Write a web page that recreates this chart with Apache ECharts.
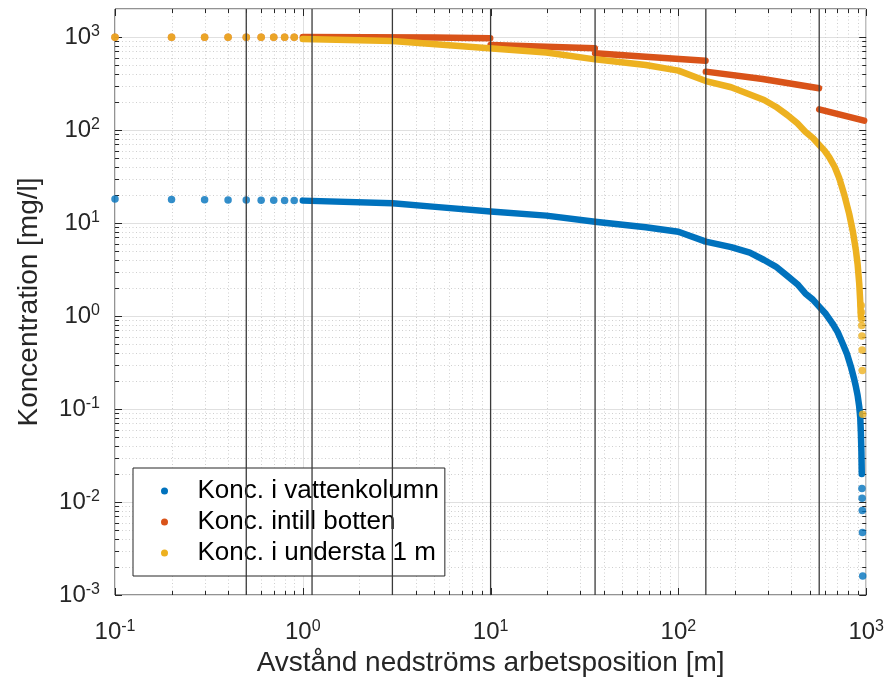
<!DOCTYPE html>
<html>
<head>
<meta charset="utf-8">
<script src="https://cdn.jsdelivr.net/npm/echarts@6/dist/echarts.min.js"></script>
<style>
  html, body { margin: 0; padding: 0; background: #fff; }
  #chart { width: 887px; height: 687px; }
</style>
</head>
<body>
<div id="chart"></div>
<script>
// axelgränser
const xMin = 0.1, xMax = 1000;
const yMin = 0.001, yMax = 2000;

// glesa punkter före 1 m
const sparseX = [0.1, 0.2, 0.3, 0.4, 0.5, 0.6, 0.7, 0.8, 0.9];
const vattenSparse = [18.1, 17.9, 17.8, 17.7, 17.7, 17.6, 17.6, 17.5, 17.5];
const bottenSparse = [995, 995, 995, 995, 995, 995, 995, 995, 995];
const understaSparse = [995, 995, 995, 995, 995, 995, 995, 995, 995];

// tät del, [avstånd, koncentration]
const vattenLine = [
  [1, 17.4], [3, 16.3], [4.9, 15.0], [10, 13.3], [19.8, 12.0], [36, 10.3],
  [67, 9.0], [100, 8.05], [140, 6.3], [191, 5.5], [240, 4.8], [286, 4.0],
  [330, 3.4], [380, 2.7], [430, 2.2], [474, 1.75], [520, 1.5], [562, 1.26],
  [610, 1.05], [662, 0.83], [705, 0.67], [748, 0.51], [790, 0.39], [829, 0.285],
  [860, 0.215], [881, 0.174], [900, 0.14], [918, 0.106], [930, 0.08],
  [937, 0.055], [943, 0.035], [947, 0.02]
];
const vattenTail = [[949, 0.014], [951, 0.011], [953, 0.0081], [955, 0.0047], [958, 0.0016]];

const bottenLine = [
  [1, 1000], [5, 985], [9.95, 968], null,
  [10, 820], [19.8, 787], [35.9, 755], null,
  [36, 668], [67, 614], [139.5, 556], null,
  [140, 424], [281, 353], [561, 281], null,
  [562, 167], [975, 126]
];

const understaLine = [
  [1, 950], [3, 905], [9.8, 755], [19.8, 680], [36, 575], [67, 500],
  [100, 435], [140, 336], [191, 288], [286, 210], [330, 178], [380, 145],
  [430, 118], [474, 96], [520, 82], [562, 69], [600, 60], [635, 51],
  [680, 40], [718, 30.5], [765, 20], [812, 12.5], [850, 8], [881, 5.1],
  [900, 3.6], [918, 2.24], [928, 1.5], [937, 0.98]
];
const understaTail = [
  [941, 1.3], [943, 1.1], [945, 0.93], [947, 0.79], [949, 0.61],
  [951, 0.43], [953, 0.26], [957, 0.088]
];

// lodräta gränslinjer
const boundaries = [0.5, 1.12, 3, 10, 36, 140, 562];

const names = ['Konc. i vattenkolumn', 'Konc. intill botten', 'Konc. i understa 1 m'];
const colors = ['#0072BD', '#D95319', '#EDB120'];
const font = 'Liberation Sans';
const ink = '#262626';

function zip(xs, ys) { return xs.map((x, i) => [x, ys[i]]); }

const xDecades = [-1, 0, 1, 2, 3];
const yDecades = [-3, -2, -1, 0, 1, 2, 3];

function renderGuides(params, api) {
  const cs = params.coordSys;
  const l = cs.x, r = cs.x + cs.width, t = cs.y, b = cs.y + cs.height;
  const kids = [];
  const dotted = { stroke: '#cfcfcf', lineWidth: 1, lineDash: [1, 2.5] };
  const tick = { stroke: ink, lineWidth: 1 };
  const seg = (x1, y1, x2, y2, st) => kids.push({ type: 'line', shape: { x1, y1, x2, y2 }, style: st });
  xDecades.forEach(d => {
    const major = Math.pow(10, d);
    if (major >= xMin && major <= xMax) {
      const px = Math.round(api.coord([major, 1])[0]) + 0.5;
      seg(px, b, px, b - 7, tick); seg(px, t, px, t + 7, tick);
    }
    for (let m = 2; m <= 9; m++) {
      const v = m * major;
      if (v <= xMin || v >= xMax) continue;
      const px = Math.round(api.coord([v, 1])[0]) + 0.5;
      seg(px, t, px, b, dotted);
      seg(px, b, px, b - 4, tick); seg(px, t, px, t + 4, tick);
    }
  });
  yDecades.forEach(d => {
    const major = Math.pow(10, d);
    if (major >= yMin && major <= yMax) {
      const py = Math.round(api.coord([1, major])[1]) + 0.5;
      seg(l, py, l + 7, py, tick); seg(r, py, r - 7, py, tick);
    }
    for (let m = 2; m <= 9; m++) {
      const v = m * major;
      if (v <= yMin || v >= yMax) continue;
      const py = Math.round(api.coord([1, v])[1]) + 0.5;
      seg(l, py, r, py, dotted);
      seg(l, py, l + 4, py, tick); seg(r, py, r - 4, py, tick);
    }
  });
  return { type: 'group', children: kids };
}

function fmtPow(v) {
  const e = Math.log10(v);
  const k = Math.round(e);
  if (Math.abs(e - k) > 1e-6) return '';
  return '{b|10}{s|' + k + '}';
}
const powRich = {
  b: { fontFamily: font, fontSize: 24, color: ink, lineHeight: 26 },
  s: { fontFamily: font, fontSize: 16, color: ink, verticalAlign: 'top', lineHeight: 16 }
};

const boundaryData = [];
boundaries.forEach(v => { boundaryData.push([v, yMin], [v, yMax], null); });

const lineBase = (name, data, color) => ({
  name, type: 'line', data, showSymbol: false, symbol: 'none', connectNulls: false,
  lineStyle: { color, width: 6.5, cap: 'round', join: 'round' },
  itemStyle: { color }, z: 3, clip: false, animation: false
});
const dotBase = (name, data, color) => ({
  name, type: 'scatter', data, symbol: 'circle', symbolSize: 7.5,
  itemStyle: { color }, z: 3, clip: false, animation: false
});

const option = {
  animation: false,
  backgroundColor: '#fff',
  grid: { left: 115, right: 20, top: 9, bottom: 92, show: true, borderColor: ink, borderWidth: 1, backgroundColor: 'transparent' },
  legend: {
    orient: 'vertical', left: 133, top: 468,
    data: names.map(n => ({ name: n, icon: 'circle' })),
    itemWidth: 56, itemHeight: 7, itemGap: 5,
    padding: [10, 6, 10, 28],
    backgroundColor: '#fff', borderColor: ink, borderWidth: 1, borderRadius: 0,
    textStyle: { fontFamily: font, fontSize: 26, color: '#000' },
    selectedMode: false
  },
  xAxis: {
    type: 'log', logBase: 10, min: xMin, max: xMax, interval: 1,
    name: 'Avstånd nedströms arbetsposition [m]', nameLocation: 'middle', nameGap: 50,
    nameTextStyle: { fontFamily: font, fontSize: 28, color: ink },
    axisLine: { show: false }, axisTick: { show: false },
    axisLabel: { formatter: fmtPow, rich: powRich, margin: 24, showMaxLabel: true, showMinLabel: true },
    splitLine: { show: true, lineStyle: { color: '#e0e0e0', width: 1 } }
  },
  yAxis: {
    type: 'log', logBase: 10, min: yMin, max: yMax, interval: 1,
    name: 'Koncentration [mg/l]', nameLocation: 'middle', nameGap: 72,
    nameTextStyle: { fontFamily: font, fontSize: 28, color: ink },
    axisLine: { show: false }, axisTick: { show: false },
    axisLabel: { formatter: fmtPow, rich: powRich, margin: 15 },
    splitLine: { show: true, lineStyle: { color: '#e0e0e0', width: 1 } }
  },
  series: [
    { type: 'custom', renderItem: renderGuides, data: [[1, 1]], z: 1, silent: true, animation: false, clip: false },
    lineBase(names[0], vattenLine, colors[0]),
    dotBase(names[0], zip(sparseX, vattenSparse).concat(vattenTail), colors[0]),
    lineBase(names[1], bottenLine, colors[1]),
    dotBase(names[1], zip(sparseX, bottenSparse), colors[1]),
    lineBase(names[2], understaLine, colors[2]),
    dotBase(names[2], zip(sparseX, understaSparse).concat(understaTail), colors[2]),
    {
      type: 'line', data: boundaryData, symbol: 'none', connectNulls: false, silent: true,
      lineStyle: { color: '#3a3a3a', width: 1.3 }, z: 5, animation: false
    }
  ]
};

const chart = echarts.init(document.getElementById('chart'));
chart.setOption(option);
</script>
</body>
</html>
